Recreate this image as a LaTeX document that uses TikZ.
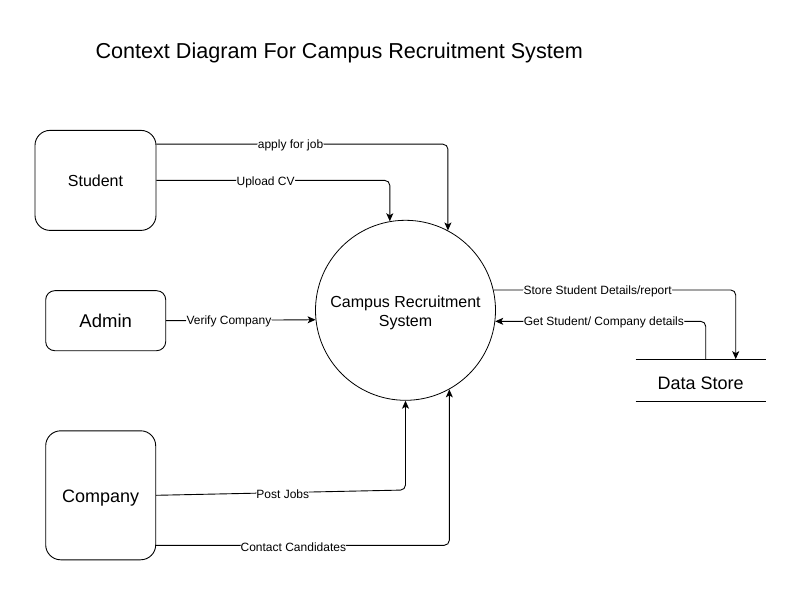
\documentclass[tikz,border=0pt]{standalone}
\usepackage{fontspec}
\setmainfont{Liberation Sans}
\usetikzlibrary{arrows.meta,calc}
\begin{document}
\begin{tikzpicture}[x=1pt,y=-1pt,
  ent/.style={draw, line width=0.9pt, align=center},
  flow/.style={line width=0.9pt, rounded corners=5pt, -{Stealth[length=8pt,width=7pt,inset=2pt]}},
  lbl/.style={fill=white, inner sep=0.5pt, yshift=-1.5pt, font=\fontsize{12}{14}\selectfont},
]
\useasboundingbox (0,0) rectangle (801,596);
\fill[white] (0,0) rectangle (801,596);

\node[font=\fontsize{21.6}{26}\selectfont] (title) at (339.2,52.5) {Context Diagram For Campus Recruitment System};

\node[ent, minimum width=121pt, minimum height=100pt, rounded corners=15pt, font=\fontsize{16}{19}\selectfont] (stu) at (95.5,180.4) {Student};
\node[ent, minimum width=120pt, minimum height=60pt, rounded corners=9pt, font=\fontsize{18.5}{22}\selectfont] (adm) at (105.7,320.7) {Admin};
\node[ent, minimum width=110pt, minimum height=129pt, rounded corners=15pt,
  label={[yshift=-2.5pt, font=\fontsize{18}{22}\selectfont]center:Company}] (com) at (100.7,495.3) {};

\node[draw, circle, line width=0.8pt, minimum size=180pt, inner sep=0pt,
  label={[yshift=-2.5pt, align=center, font=\fontsize{16}{19}\selectfont]center:Campus Recruitment\\System}] (sys) at (405.5,310.3) {};

\node[minimum width=130pt, minimum height=41.7pt, inner sep=0pt,
  label={[yshift=-3pt, font=\fontsize{18}{22}\selectfont]center:Data Store}] (ds) at (700.7,380.2) {};
\draw[line width=0.9pt] (ds.north west) -- (ds.north east) (ds.south west) -- (ds.south east);

\coordinate (pjb) at (405.5,490);

\draw[flow] ([yshift=36.2pt]stu.east) -| node[lbl,pos=0.23]{apply for job} (sys.62);
\draw[flow] (stu.east) -| node[lbl,pos=0.234]{Upload CV} (sys.100.6);
\draw[flow] (adm.east) -- node[lbl,pos=0.42]{Verify Company} (sys.186.5);
\draw[flow] (com.east) -- node[lbl,pos=0.508]{Post Jobs} (pjb) -- (sys.south);
\draw[flow] ([yshift=-50pt]com.east) -| node[lbl,pos=0.234]{Contact Candidates} (sys.299);
\draw[flow] (sys.13.5) -| node[lbl,pos=0.215]{Store Student Details/report} ([xshift=35pt]ds.north);
\draw[flow] ([xshift=5pt]ds.north) |- node[lbl,pos=0.742]{Get Student/ Company details} (sys.353.2);
\end{tikzpicture}
\end{document}
